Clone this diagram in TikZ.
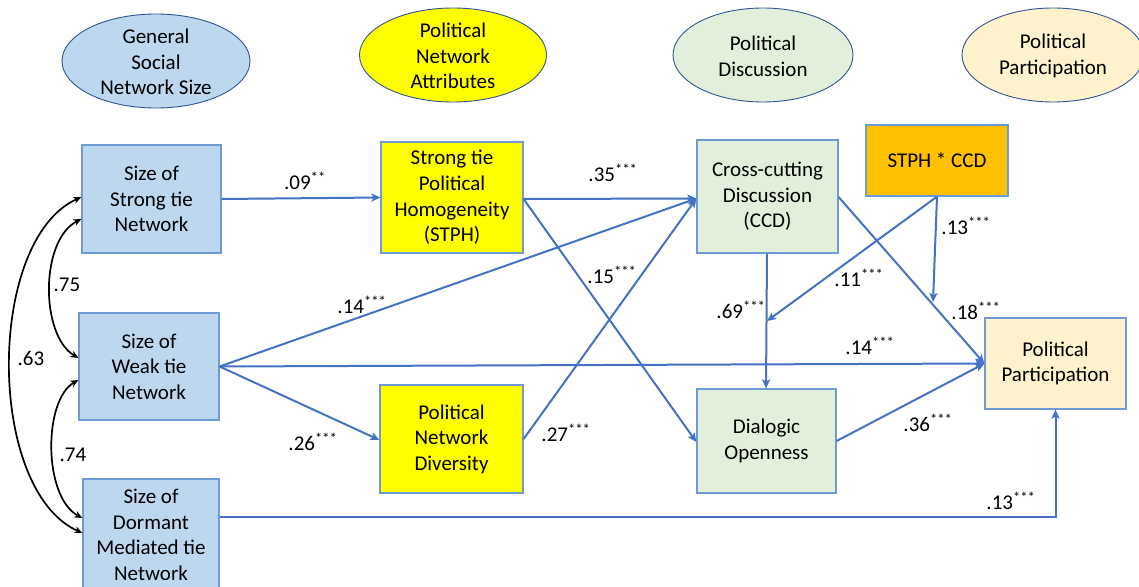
\documentclass[tikz,border=0pt]{standalone}
\usepackage{fontspec}
\setmainfont{Carlito}
\usetikzlibrary{shapes.geometric,arrows.meta,calc}
\definecolor{bluefill}{HTML}{BDD7EE}
\definecolor{yelfill}{HTML}{FFFF00}
\definecolor{greenfill}{HTML}{E2EFDA}
\definecolor{orangefill}{HTML}{FFC000}
\definecolor{creamfill}{HTML}{FFF2CC}
\definecolor{boxline}{HTML}{6E9AD6}
\definecolor{ellline}{HTML}{2F5597}
\definecolor{edgeblue}{HTML}{4472C4}
\begin{document}
\begin{tikzpicture}[x=1pt,y=-1pt,
  font=\fontsize{21}{25.6}\selectfont,
  box/.style={draw=boxline, line width=1.2pt, align=center, inner sep=2pt},
  ell/.style={draw=ellline, line width=0.9pt, ellipse, minimum width=188pt, minimum height=94pt, inner sep=0pt},
  etext/.style={align=center, inner sep=0pt},
  path/.style={draw=edgeblue, line width=2pt, -{Stealth[length=9pt,width=8pt,inset=2pt]}},
  cov/.style={draw=black, line width=1.7pt, {Stealth[length=8pt,width=7pt]}-{Stealth[length=8pt,width=7pt]}},
  coef/.style={inner sep=0pt}
]
\useasboundingbox (0,0) rectangle (1139,586);

% header ellipses
\node[ell, fill=bluefill] (e1) at (156,61) {};
\node[etext] (t1) at ([yshift=-1pt]e1.center) {General\\Social\\Network Size};
\node[ell, fill=yelfill, minimum width=187pt] (e2) at (453,55) {};
\node[etext] (t2) at ([yshift=-1pt]e2.center) {Political\\Network\\Attributes};
\node[ell, fill=greenfill, minimum width=180pt] (e3) at (763,55) {};
\node[etext] (t3) at ([yshift=-1pt]e3.center) {Political\\Discussion};
\node[ell, fill=creamfill, minimum width=182pt] (e4) at (1053,55) {};
\node[etext] (t4) at ([yshift=-1pt]e4.center) {Political\\Participation};

% boxes
\node[box, fill=bluefill, minimum width=139pt, minimum height=108pt] (strong) at (151.5,199) {Size of\\Strong tie\\Network};
\node[box, fill=bluefill, minimum width=140pt, minimum height=107pt] (weak) at (149,366.5) {Size of\\Weak tie\\Network};
\node[box, fill=bluefill, minimum width=136pt, minimum height=112pt] (dorm) at (151,535) {Size of\\Dormant\\Mediated tie\\Network};
\node[box, fill=yelfill, minimum width=142pt, minimum height=111pt] (stph) at (452,197.5) {Strong tie\\Political\\Homogeneity\\(STPH)};
\node[box, fill=yelfill, minimum width=143pt, minimum height=108pt] (div) at (451.5,439) {Political\\Network\\Diversity};
\node[box, fill=greenfill, minimum width=141pt, minimum height=113pt] (ccd) at (767.5,196.5) {Cross-cutting\\Discussion\\(CCD)};
\node[box, fill=orangefill, minimum width=142pt, minimum height=71pt] (inter) at (937,160.5) {STPH * CCD};
\node[box, fill=greenfill, minimum width=139pt, minimum height=104pt] (dia) at (766.5,441) {Dialogic\\Openness};
\node[box, fill=creamfill, minimum width=141pt, minimum height=91pt] (pp) at (1055.5,363.5) {Political\\Participation};

% anchor points
\coordinate (ccdin) at ([yshift=-2pt]ccd.west);
\coordinate (ppin) at ([yshift=0pt]pp.west);
\coordinate (stphout) at ([yshift=-1.5pt]stph.east);
\coordinate (diain) at ([yshift=-1pt]dia.west);
\coordinate (ccdout) at ([yshift=-0.5pt]ccd.east);
\coordinate (divout) at (div.east);
\coordinate (m1) at (767,321);
\coordinate (m2) at (933,302);
\coordinate (corner) at (pp.south |- dorm.east);
\coordinate (dormout) at ([yshift=18pt]dorm.east);

% paths
\draw[path] (strong.east) -- (stph.west);
\draw[path] (stphout) -- (ccdin);
\draw[path] (stphout) -- (diain);
\draw[path] (weak.east) -- (ccdin);
\draw[path] (weak.east) -- (ppin);
\draw[path] (weak.east) -- ([yshift=-1pt]div.west);
\draw[path] (divout) -- (ccdin);
\draw[path] (ccdout) -- (ppin);
\draw[path] ([xshift=-0.5pt]ccd.south) -- ([xshift=-0.5pt]dia.north);
\draw[path] (inter.south) -- (m1);
\draw[path] (inter.south) -- (m2);
\draw[path] (dia.east) -- (ppin);
\draw[path] (dormout) -- (corner |- dormout) -- (pp.south);

% covariances
\draw[cov] ([yshift=-20pt]strong.west) .. controls (40,240) and (40,335) .. ([yshift=8.5pt]weak.west);
\draw[cov] ([yshift=-13.5pt]weak.west) .. controls (43,400) and (43,497) .. ([yshift=17pt]dorm.west);
\draw[cov] ([yshift=2pt]strong.west) .. controls (-14,240) and (-14,490) .. ([yshift=2pt]dorm.west);

% coefficients
\node[coef] (c1) at (305,181) {.09\textsuperscript{**}};
\node[coef] (c2) at (613,173) {.35\textsuperscript{***}};
\node[coef] (c3) at (612,275) {.15\textsuperscript{***}};
\node[coef] (c4) at (362,305) {.14\textsuperscript{***}};
\node[coef] (c5) at (313,442) {.26\textsuperscript{***}};
\node[coef] (c6) at (566,433) {.27\textsuperscript{***}};
\node[coef] (c7) at (741,310) {.69\textsuperscript{***}};
\node[coef] (c8) at (859,278) {.11\textsuperscript{***}};
\node[coef] (c9) at (966,226) {.13\textsuperscript{***}};
\node[coef] (c10) at (976,311) {.18\textsuperscript{***}};
\node[coef] (c11) at (870,346) {.14\textsuperscript{***}};
\node[coef] (c12) at (928,423) {.36\textsuperscript{***}};
\node[coef] (c13) at (1011,501) {.13\textsuperscript{***}};
\node[coef] (c14) at (67,285) {.75};
\node[coef] (c15) at (73,455) {.74};
\node[coef] (c16) at (31,358) {.63};
\end{tikzpicture}
\end{document}
